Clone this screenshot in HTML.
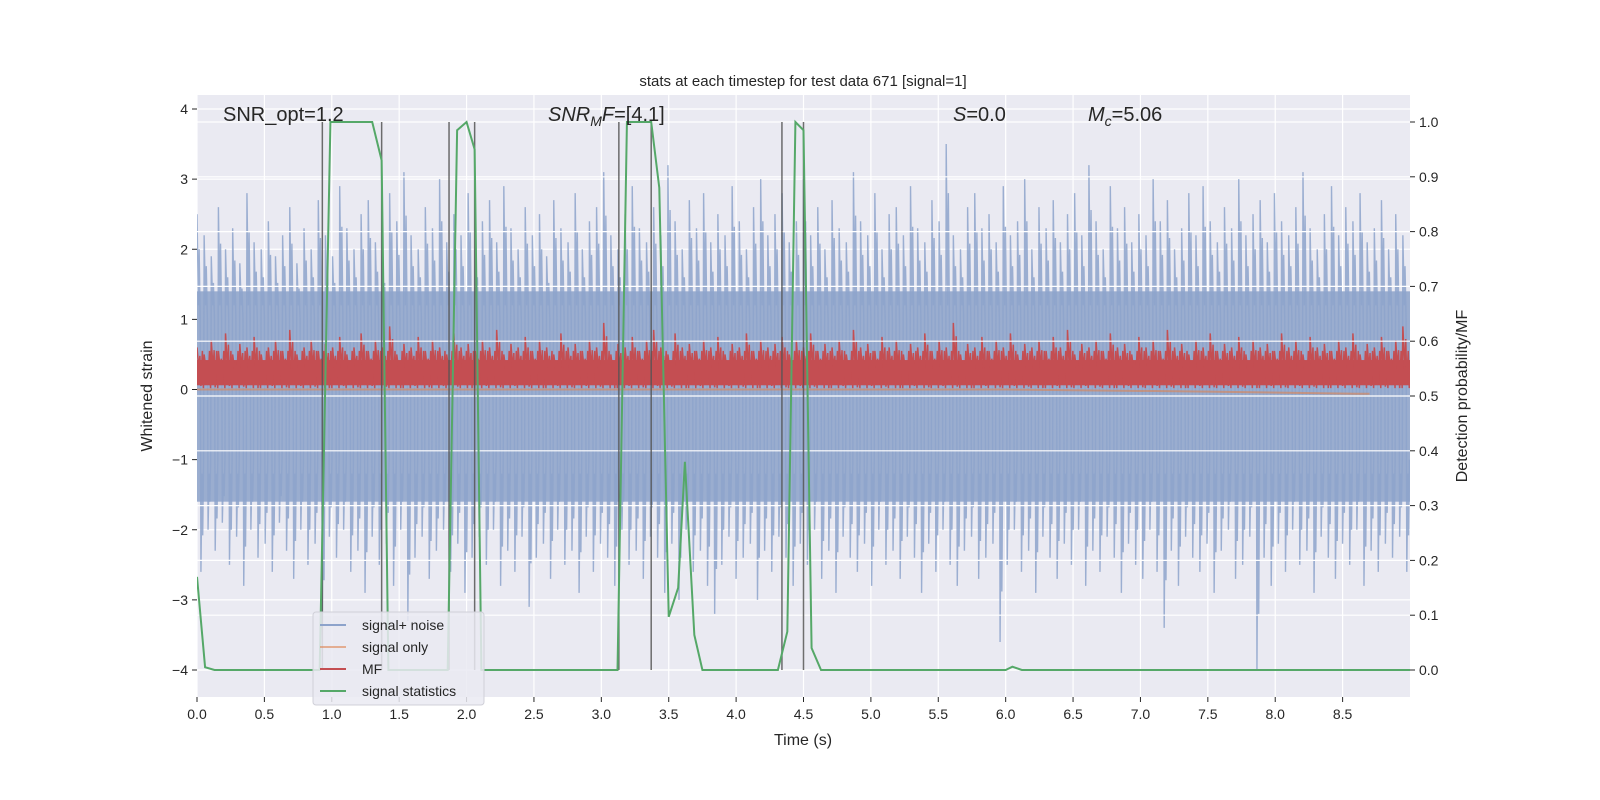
<!DOCTYPE html>
<html><head><meta charset="utf-8">
<style>
html,body{margin:0;padding:0;background:#fff;width:1600px;height:800px;overflow:hidden;}
#wrap{position:relative;width:1600px;height:800px;overflow:hidden;}
svg{position:absolute;left:0;top:0;font-family:"Liberation Sans","DejaVu Sans",sans-serif;}
</style></head>
<body>
<div id="wrap">
<svg id="chart" width="1600" height="800" xmlns="http://www.w3.org/2000/svg"></svg>
<svg width="1600" height="800">
<g font-family="Liberation Sans, DejaVu Sans, sans-serif" fill="#262626">
<text x="803" y="86" text-anchor="middle" font-size="15">stats at each timestep for test data 671 [signal=1]</text>
<text x="803" y="745" text-anchor="middle" font-size="16">Time (s)</text>
<text transform="translate(152,396) rotate(-90)" text-anchor="middle" font-size="16">Whitened strain</text>
<text transform="translate(1467,396) rotate(-90)" text-anchor="middle" font-size="16">Detection probability/MF</text>
<text x="223" y="121" font-size="20">SNR_opt=1.2</text>
<text x="548" y="121" font-size="20"><tspan font-style="italic">SNR</tspan><tspan font-style="italic" font-size="14" dy="5">M</tspan><tspan font-style="italic" dy="-5">F</tspan>=[4.1]</text>
<text x="953" y="121" font-size="20"><tspan font-style="italic">S</tspan>=0.0</text>
<text x="1088" y="121" font-size="20"><tspan font-style="italic">M</tspan><tspan font-style="italic" font-size="14" dy="5">c</tspan><tspan dy="-5">=5.06</tspan></text>
</g>
<g font-family="Liberation Sans, DejaVu Sans, sans-serif" font-size="14" fill="#262626">
<rect x="313" y="612" width="171" height="93" rx="3" fill="#eaeaf2" fill-opacity="0.85" stroke="#d0d0d8"/>
<g><line x1="320" x2="346" y1="625" y2="625" stroke="#8da3cb" stroke-width="2"/><text x="362" y="630">signal+ noise</text></g>
<g><line x1="320" x2="346" y1="647" y2="647" stroke="#dd8452" stroke-opacity="0.6" stroke-width="2"/><text x="362" y="652">signal only</text></g>
<g><line x1="320" x2="346" y1="669" y2="669" stroke="#c44e52" stroke-width="2"/><text x="362" y="674">MF</text></g>
<g><line x1="320" x2="346" y1="691" y2="691" stroke="#55a868" stroke-width="2"/><text x="362" y="696">signal statistics</text></g>
</g>
</svg>
</div>
<script>
const xTicks=[0,0.5,1,1.5,2,2.5,3,3.5,4,4.5,5,5.5,6,6.5,7,7.5,8,8.5];
const yTicks=[-4,-3,-2,-1,0,1,2,3,4];
const y2Ticks=[0,0.1,0.2,0.3,0.4,0.5,0.6,0.7,0.8,0.9,1.0];
const noiseHi=[2.5,2.2,1.9,2.6,2.0,2.3,1.8,2.8,2.1,2.0,2.4,1.9,2.2,2.6,1.8,2.3,2.0,2.7,2.2,1.9,
2.9,2.3,2.0,2.5,2.7,2.1,1.9,2.8,2.4,3.1,2.2,2.0,2.6,2.3,3.0,2.1,2.5,2.2,2.8,2.0,
2.4,2.7,2.1,2.9,2.3,2.0,2.6,2.2,2.5,1.9,2.7,2.3,2.1,2.8,2.0,2.4,2.6,3.1,2.2,2.0,
2.5,2.9,2.3,2.1,2.6,2.2,3.2,2.4,2.0,2.7,2.3,2.8,2.1,2.5,2.2,2.9,2.4,2.0,2.6,3.0,
2.2,2.5,2.8,2.1,2.4,3.0,2.2,2.6,2.0,2.7,2.3,2.1,3.1,2.4,2.2,2.8,2.0,2.5,2.6,2.2,
2.9,2.3,2.1,2.7,2.4,3.5,2.2,2.0,2.6,2.8,2.3,2.5,2.1,2.9,2.2,2.4,3.0,2.0,2.6,2.3,
2.7,2.1,2.5,2.8,2.2,3.2,2.4,2.0,2.9,2.3,2.6,2.1,2.5,2.2,3.0,2.4,2.7,2.0,2.3,2.8,
2.2,2.9,2.4,2.1,2.6,2.3,3.0,2.2,2.5,2.7,2.1,2.8,2.4,2.2,2.6,3.1,2.3,2.0,2.5,2.9,
2.2,2.6,2.4,2.8,2.1,2.3,2.7,2.0,2.5,2.2];
const noiseLo=[-2.6,-2.0,-2.3,-1.9,-2.5,-2.1,-2.8,-2.0,-2.4,-2.2,-2.6,-1.9,-2.3,-2.7,-2.0,-2.5,-2.2,-3.4,-2.1,-2.4,
-2.0,-2.6,-2.3,-2.9,-2.1,-2.5,-2.2,-2.8,-2.0,-3.3,-2.4,-2.1,-2.7,-2.3,-2.0,-2.6,-2.2,-2.9,-2.4,-2.1,
-2.5,-2.0,-2.8,-2.3,-2.6,-2.1,-3.1,-2.4,-2.2,-2.7,-2.0,-2.5,-2.3,-2.9,-2.1,-2.6,-2.2,-2.4,-2.8,-2.0,
-2.5,-2.3,-2.7,-2.1,-2.4,-2.9,-2.2,-3.0,-2.0,-2.6,-2.3,-2.8,-3.2,-2.5,-2.1,-2.7,-2.4,-2.2,-3.0,-2.3,
-2.6,-2.1,-2.4,-2.8,-2.2,-2.5,-2.0,-2.7,-2.3,-2.9,-2.1,-2.4,-2.6,-2.2,-2.8,-2.0,-2.5,-2.3,-2.7,-2.1,
-2.4,-2.9,-2.2,-2.6,-2.0,-2.5,-2.8,-2.3,-2.1,-2.7,-2.4,-2.2,-3.6,-2.5,-2.0,-2.6,-2.3,-2.9,-2.1,-2.4,
-2.7,-2.2,-2.5,-2.0,-2.8,-2.3,-2.6,-2.1,-2.4,-2.9,-2.2,-2.5,-2.7,-2.0,-2.6,-3.4,-2.3,-2.8,-2.1,-2.4,
-2.6,-2.2,-2.9,-2.3,-2.0,-2.7,-2.5,-2.1,-4.0,-2.4,-2.8,-2.2,-2.6,-2.0,-2.5,-2.3,-2.9,-2.1,-2.4,-2.7,
-2.2,-2.5,-2.0,-2.8,-2.3,-2.6,-2.2,-2.4,-2.1,-2.6];
const mfHi=[0.6,0.5,0.7,0.55,0.8,0.5,0.65,0.6,0.75,0.5,0.6,0.7,0.55,0.85,0.5,0.6,0.7,0.55,0.65,0.6,
0.75,0.5,0.6,0.8,0.55,0.7,0.6,0.9,0.5,0.65,0.6,0.75,0.55,0.7,0.6,0.5,0.8,0.6,0.65,0.55,
0.7,0.6,0.85,0.5,0.65,0.6,0.75,0.55,0.7,0.6,0.5,0.8,0.6,0.65,0.55,0.7,0.6,0.95,0.5,0.65,
0.6,0.75,0.55,0.7,0.85,0.6,0.5,0.8,0.6,0.65,0.55,0.7,0.6,0.75,0.5,0.65,0.6,0.8,0.55,0.7,
0.6,0.65,0.75,0.5,0.7,0.6,0.8,0.55,0.65,0.6,0.7,0.5,0.85,0.6,0.65,0.55,0.75,0.6,0.7,0.5,
0.65,0.6,0.8,0.55,0.7,0.6,0.95,0.5,0.65,0.6,0.75,0.55,0.7,0.6,0.8,0.5,0.65,0.6,0.7,0.55,
0.75,0.6,0.85,0.5,0.65,0.6,0.7,0.55,0.8,0.6,0.65,0.5,0.75,0.6,0.7,0.55,0.85,0.6,0.65,0.5,
0.7,0.6,0.8,0.55,0.65,0.6,0.75,0.5,0.7,0.6,0.65,0.55,0.8,0.6,0.7,0.5,0.75,0.6,0.65,0.55,
0.7,0.6,0.8,0.5,0.65,0.6,0.75,0.55,0.7,0.9];
const mfLo=[0.05,0.1,0.03,0.08,0.05,0.12,0.04,0.07,0.02,0.1];
const signalT=[0,2,4,6,6.5,7.5,8.6,8.7];
const signalV=[0,0,0,0,-0.01,-0.03,-0.06,-0.06];
const statT=[0,0.06,0.13,0.91,0.99,1.30,1.37,1.42,1.86,1.93,2.0,2.06,2.11,3.12,3.19,3.37,3.43,3.50,3.57,3.62,3.69,3.75,4.31,4.38,4.44,4.50,4.56,4.63,6.0,6.05,6.12,9.0];
const statV=[0.17,0.005,0,0,1.0,1.0,0.93,0,0,0.985,1.0,0.95,0,0,1.0,1.0,0.88,0.097,0.15,0.38,0.064,0,0,0.07,1.0,0.985,0.04,0,0,0.006,0,0];
const eventT=[0.93,1.37,1.87,2.06,3.13,3.37,4.34,4.50];

const NS='http://www.w3.org/2000/svg';
const svg=document.getElementById('chart');
const L=197,R=1410,T=95,B=697;
const X=t=>L+t*(R-L)/9.0;
const Y=v=>389.5-v*70.125;
const Y2=p=>670-p*548;
function mk(tag,attrs,parent){const e=document.createElementNS(NS,tag);for(const k in attrs)e.setAttribute(k,attrs[k]);(parent||svg).appendChild(e);return e;}

let e=mk('rect',{x:L,y:T,width:R-L,height:B-T,fill:'#eaeaf2'});


const clip=mk('clipPath',{id:'pc'});mk('rect',{x:L,y:T,width:R-L,height:B-T},clip);
const g=mk('g',{'clip-path':'url(#pc)'});


xTicks.forEach(t=>{mk('line',{x1:X(t),x2:X(t),y1:T,y2:B,stroke:'#fff','stroke-width':1.2},g);});
yTicks.forEach(v=>{mk('line',{x1:L,x2:R,y1:Y(v),y2:Y(v),stroke:'#fff','stroke-width':1.2},g);});
e=mk('rect',{x:L,y:Y(1.4),width:R-L,height:Y(-1.6)-Y(1.4),fill:'#9aadcf'},g);


let pts=[];const dt=9.0/noiseHi.length;
noiseHi.forEach((v,i)=>{const t=i*dt;pts.push(X(t)+','+Y(v));pts.push(X(t+dt*0.2)+','+Y(1.2));pts.push(X(t+dt*0.3)+','+Y(v*0.8));pts.push(X(t+dt*0.45)+','+Y(1.0));pts.push(X(t+dt*0.55)+','+Y(noiseLo[i]));pts.push(X(t+dt*0.7)+','+Y(-1.2));pts.push(X(t+dt*0.8)+','+Y(noiseLo[i]*0.8));pts.push(X(t+dt*0.92)+','+Y(-1.0));});
e=mk('polyline',{points:pts.join(' '),fill:'none',stroke:'#8da3cb','stroke-width':1.4,'stroke-opacity':0.85},g);


e=mk('polyline',{points:signalT.map((t,i)=>X(t)+','+Y(signalV[i])).join(' '),fill:'none',stroke:'#dd8452','stroke-opacity':0.6,'stroke-width':2},g);


e=mk('rect',{x:L,y:Y(0.42),width:R-L,height:Y(0.06)-Y(0.42),fill:'#c44e52'},g);


pts=[];const md=9.0/mfHi.length;
mfHi.forEach((v,i)=>{const t=i*md;pts.push(X(t)+','+Y(v));pts.push(X(t+md*0.25)+','+Y(0.3));pts.push(X(t+md*0.4)+','+Y(v*0.8));pts.push(X(t+md*0.55)+','+Y(mfLo[i%mfLo.length]));pts.push(X(t+md*0.75)+','+Y(0.55));pts.push(X(t+md*0.9)+','+Y(0.02));});
e=mk('polyline',{points:pts.join(' '),fill:'none',stroke:'#c44e52','stroke-width':1.5},g);


y2Ticks.forEach(p=>{mk('line',{x1:L,x2:R,y1:Y2(p),y2:Y2(p),stroke:'#fff','stroke-width':1.2},g);});
eventT.forEach(t=>{const l=mk('line',{x1:X(t),x2:X(t),y1:Y2(1),y2:Y2(0),stroke:'#555','stroke-width':1.5,'stroke-opacity':0.85},g);

});
e=mk('polyline',{points:statT.map((t,i)=>X(t)+','+Y2(statV[i])).join(' '),fill:'none',stroke:'#55a868','stroke-width':2},g);


const tf={fill:'#262626','font-size':14};
xTicks.forEach(t=>{mk('line',{x1:X(t),x2:X(t),y1:B,y2:B+5,stroke:'#262626'});const s=mk('text',Object.assign({x:X(t),y:B+22,'text-anchor':'middle'},tf));s.textContent=t.toFixed(1);
});
yTicks.forEach(v=>{mk('line',{x1:L-5,x2:L,y1:Y(v),y2:Y(v),stroke:'#262626'});const s=mk('text',Object.assign({x:L-9,y:Y(v)+5,'text-anchor':'end'},tf));s.textContent=(v<0?'\u2212'+(-v):v);
});
y2Ticks.forEach(p=>{mk('line',{x1:R,x2:R+5,y1:Y2(p),y2:Y2(p),stroke:'#262626'});const s=mk('text',Object.assign({x:R+9,y:Y2(p)+5},tf));s.textContent=p.toFixed(1);
});
</script>
</body></html>
